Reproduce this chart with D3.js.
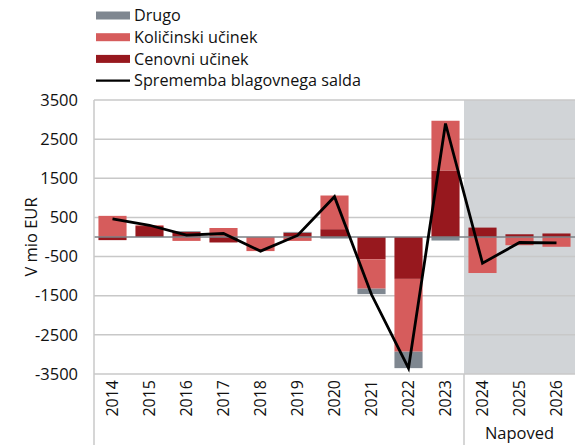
<!DOCTYPE html>
<html>
<head>
<meta charset="utf-8">
<script src="https://cdn.jsdelivr.net/npm/d3@7"></script>
<style>
  html, body { margin: 0; padding: 0; background: #fff; }
  svg { display: block; font-family: "Open Sans", "Noto Sans", sans-serif; }
</style>
</head>
<body>
<svg id="chart" width="575" height="445"></svg>
<script>
// Years on the category axis
const years = ["2014","2015","2016","2017","2018","2019","2020","2021","2022","2023","2024","2025","2026"];
// Forecast years (shaded area)
const forecastYears = ["2024","2025","2026"];
// Contributions to the change of the trade balance, EUR million
const cenovni    = [-80, 280, 130, -140, 0, 110, 200, -570, -1070, 1700, 240, 70, 90];
const kolicinski = [540, 20, -100, 230, -360, -100, 860, -750, -1860, 1270, -920, -210, -250];
const drugo      = [0, 0, 20, 0, 0, 20, -40, -140, -420, -90, 0, 0, 0];
// Change of the trade balance, EUR million
const saldo      = [460, 300, 50, 90, -360, 40, 1030, -1470, -3350, 2900, -670, -140, -150];
// Y-axis ticks
const yTicks = [3500, 2500, 1500, 500, -500, -1500, -2500, -3500];

const seriesNames = {
  cenovni: "Cenovni učinek",
  kolicinski: "Količinski učinek",
  drugo: "Drugo"
};
const colors = { drugo: "#7f8790", kolicinski: "#d65c5c", cenovni: "#97181e" };

const svg = d3.select("#chart");
const plotLeft = 94, plotRight = 575, plotTop = 100, plotBottom = 374;

const x = d3.scaleBand().domain(years).range([plotLeft, plotRight])
  .paddingInner(0.24).paddingOuter(0.12);
const y = d3.scaleLinear().domain([-3500, 3500]).range([plotBottom, plotTop]);

// shaded forecast region
const fx0 = x(forecastYears[0]) - x.step() * x.paddingInner() / 2;
svg.append("rect")
  .attr("x", fx0).attr("y", plotTop)
  .attr("width", plotRight - fx0).attr("height", plotBottom - plotTop)
  .attr("fill", "#d1d4d7");

// gridlines
svg.append("g").selectAll("line").data(yTicks).join("line")
  .attr("x1", plotLeft).attr("x2", plotRight)
  .attr("y1", d => y(d)).attr("y2", d => y(d))
  .attr("stroke", "#c8c8c8").attr("stroke-width", 1.5);

// y tick labels
svg.append("g").selectAll("text").data(yTicks).join("text")
  .attr("x", 78).attr("y", d => y(d)).attr("dy", "0.35em")
  .attr("text-anchor", "end").attr("font-size", 16.5).attr("fill", "#111")
  .text(d => d);

// y axis title
svg.append("text")
  .attr("transform", `translate(37,${(plotTop + plotBottom) / 2}) rotate(-90)`)
  .attr("text-anchor", "middle").attr("font-size", 16.5).attr("fill", "#111")
  .text("V mio EUR");

// stacked bars (diverging around zero)
const rows = years.map((yr, i) => ({
  year: yr, cenovni: cenovni[i], kolicinski: kolicinski[i], drugo: drugo[i]
}));
const stack = d3.stack().keys(["cenovni", "kolicinski", "drugo"])
  .offset(d3.stackOffsetDiverging);
const layers = stack(rows);

svg.append("g").selectAll("g").data(layers).join("g")
  .attr("fill", d => colors[d.key])
  .selectAll("rect").data(d => d).join("rect")
  .attr("x", d => x(d.data.year))
  .attr("width", x.bandwidth())
  .attr("y", d => y(Math.max(d[0], d[1])))
  .attr("height", d => Math.abs(y(d[0]) - y(d[1])));

// zero line
svg.append("line")
  .attr("x1", plotLeft).attr("x2", plotRight)
  .attr("y1", y(0)).attr("y2", y(0))
  .attr("stroke", "#7b8086").attr("stroke-width", 1.5);

// balance line
const line = d3.line()
  .x((d, i) => x(years[i]) + x.bandwidth() / 2)
  .y(d => y(d));
svg.append("path").datum(saldo)
  .attr("d", line).attr("fill", "none")
  .attr("stroke", "#000").attr("stroke-width", 2.8)
  .attr("stroke-linejoin", "miter");

// axis frame lines
svg.append("line").attr("x1", plotLeft).attr("x2", plotLeft)
  .attr("y1", plotTop).attr("y2", 445)
  .attr("stroke", "#c8c8c8").attr("stroke-width", 1.5);
svg.append("line").attr("x1", fx0).attr("x2", fx0)
  .attr("y1", plotBottom).attr("y2", 445)
  .attr("stroke", "#c8c8c8").attr("stroke-width", 1.5);

// x tick labels (rotated)
svg.append("g").selectAll("text").data(years).join("text")
  .attr("transform", d => `translate(${x(d) + x.bandwidth() / 2},380) rotate(-90)`)
  .attr("text-anchor", "end").attr("dy", "0.35em")
  .attr("font-size", 16).attr("fill", "#111")
  .text(d => d);

// forecast label
svg.append("text")
  .attr("x", (fx0 + plotRight) / 2).attr("y", 439)
  .attr("text-anchor", "middle").attr("font-size", 16.5).attr("fill", "#111")
  .text("Napoved");

// legend
const legendItems = [
  { key: "drugo", label: seriesNames.drugo, type: "rect" },
  { key: "kolicinski", label: seriesNames.kolicinski, type: "rect" },
  { key: "cenovni", label: seriesNames.cenovni, type: "rect" },
  { key: "saldo", label: "Sprememba blagovnega salda", type: "line" }
];
const lg = svg.append("g").selectAll("g").data(legendItems).join("g")
  .attr("transform", (d, i) => `translate(96,${15.5 + i * 21.7})`);
lg.filter(d => d.type === "rect").append("rect")
  .attr("x", 0).attr("y", -4).attr("width", 34).attr("height", 8)
  .attr("fill", d => colors[d.key]);
lg.filter(d => d.type === "line").append("line")
  .attr("x1", 0).attr("x2", 34).attr("y1", 0).attr("y2", 0)
  .attr("stroke", "#000").attr("stroke-width", 2.2);
lg.append("text").attr("x", 38).attr("dy", "0.35em")
  .attr("font-size", 16.2).attr("fill", "#111")
  .text(d => d.label);
</script>
</body>
</html>
